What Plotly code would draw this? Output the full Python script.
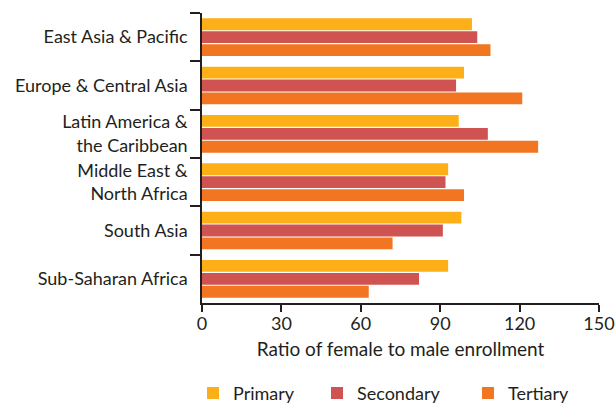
import plotly.graph_objects as go

regions = ["East Asia & Pacific", "Europe & Central Asia", "Latin America &<br>the Caribbean",
           "Middle East &<br>North Africa", "South Asia", "Sub-Saharan Africa"]
primary = [102, 99, 97, 93, 98, 93]
secondary = [104, 96, 108, 92, 91, 82]
tertiary = [109, 121, 127, 99, 72, 63]
x_ticks = [0, 30, 60, 90, 120, 150]

series_names = ["Primary", "Secondary", "Tertiary"]
colors = {"Primary": "#FCAF17", "Secondary": "#CF5350", "Tertiary": "#F27521"}
font_family = "Lato, 'Open Sans', sans-serif"
ink = "#231F20"

fig = go.Figure()
legend_ids = ["legend", "legend2", "legend3"]
for name, vals, lid in zip(series_names, [primary, secondary, tertiary], legend_ids):
    fig.add_trace(go.Bar(y=regions, x=vals, name=name, orientation="h", legend=lid,
                         marker=dict(color=colors[name], line=dict(width=0))))

legend_x_px = [193, 317, 468]
legend_common = dict(orientation="h", xref="container", yref="container",
                     xanchor="left", y=0.024, yanchor="middle", font=dict(size=18),
                     bgcolor="rgba(0,0,0,0)")

fig.update_layout(
    width=615, height=403,
    margin=dict(l=202, r=16, t=13, b=100),
    paper_bgcolor="white", plot_bgcolor="white",
    barmode="group", bargap=0.2, bargroupgap=0.08,
    font=dict(family=font_family, size=18, color=ink),
    showlegend=True,
    legend=dict(x=legend_x_px[0] / 615, **legend_common),
    legend2=dict(x=legend_x_px[1] / 615, **legend_common),
    legend3=dict(x=legend_x_px[2] / 615, **legend_common),
    xaxis=dict(range=[0, 150], tickvals=x_ticks, showgrid=False, zeroline=False,
               showline=True, linecolor=ink, linewidth=1.5, ticks="outside",
               ticklen=7, tickcolor=ink, tickwidth=1.5, automargin=False,
               ticklabelstandoff=-3,
               title=dict(text="Ratio of female to male enrollment", standoff=9,
                          font=dict(family=font_family, size=19))),
    yaxis=dict(autorange="reversed", showgrid=False, zeroline=False, showline=True,
               linecolor=ink, linewidth=1.5, ticks="outside", tickson="boundaries",
               ticklen=10, tickcolor=ink, tickwidth=1.5, automargin=False,
               ticklabelstandoff=9),
)
fig.write_html("out.html", config={"displayModeBar": False},
               post_script="document.body.style.margin='0';document.body.style.overflow='hidden';")
